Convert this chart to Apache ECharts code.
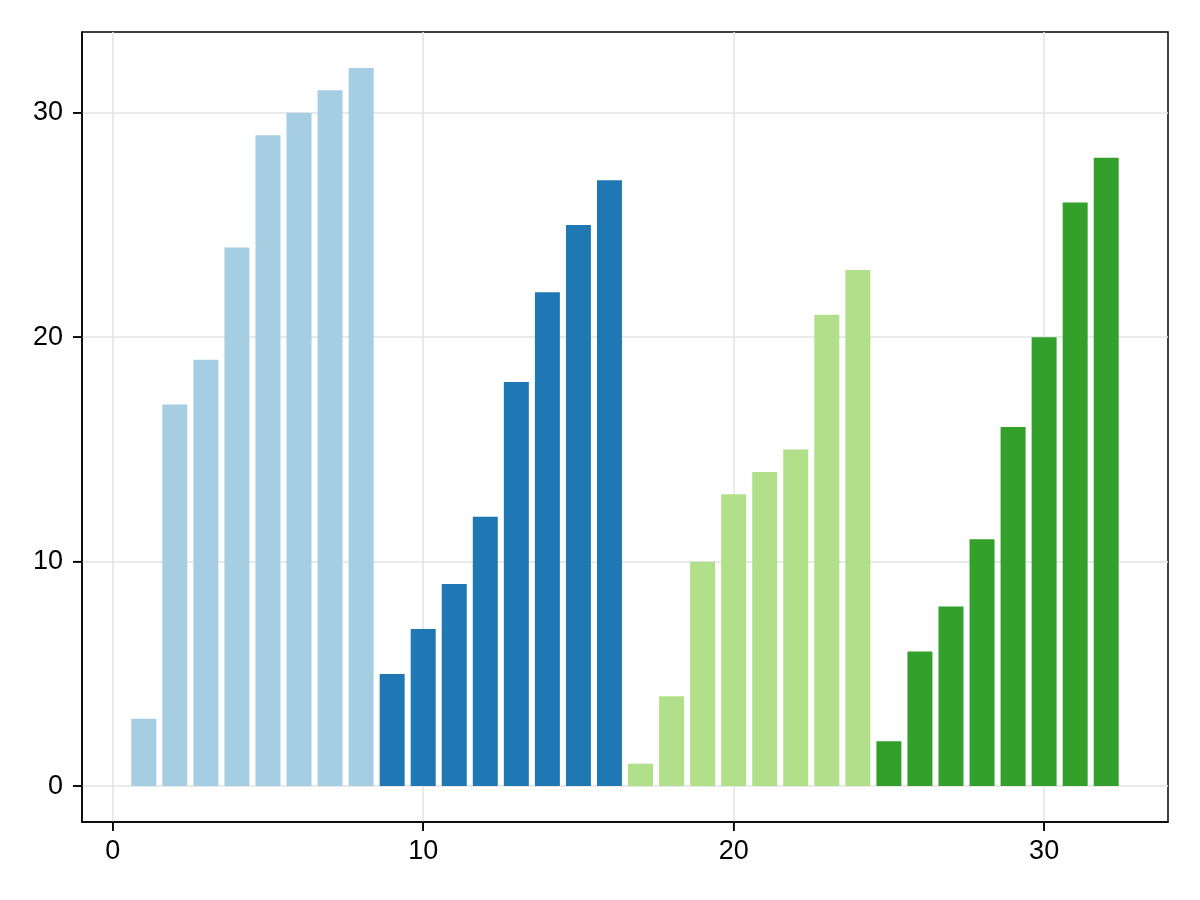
<!DOCTYPE html>
<html>
<head>
<meta charset="utf-8">
<script src="https://cdn.jsdelivr.net/npm/echarts@6/dist/echarts.min.js"></script>
<style>
  html, body { margin: 0; padding: 0; background: #fff; }
  #chart { width: 1200px; height: 900px; }
</style>
</head>
<body>
<div id="chart"></div>
<script>
// 柱子位置与高度
const positions = [1, 2, 3, 4, 5, 6, 7, 8, 9, 10, 11, 12, 13, 14, 15, 16,
  17, 18, 19, 20, 21, 22, 23, 24, 25, 26, 27, 28, 29, 30, 31, 32];
const heights = [3, 17, 19, 24, 29, 30, 31, 32, 5, 7, 9, 12, 18, 22, 25, 27,
  1, 4, 10, 13, 14, 15, 21, 23, 2, 6, 8, 11, 16, 20, 26, 28];
// 每组 8 根柱子的分组编号
const groups = [0, 0, 0, 0, 0, 0, 0, 0, 1, 1, 1, 1, 1, 1, 1, 1,
  2, 2, 2, 2, 2, 2, 2, 2, 3, 3, 3, 3, 3, 3, 3, 3];
const palette = ['#a6cee3', '#1f78b4', '#b2df8a', '#33a02c'];
const xTicks = [0, 10, 20, 30];
const yTicks = [0, 10, 20, 30];
const xMin = -0.99, xMax = 33.99;
const yMin = -1.6, yMax = 33.6;

const chart = echarts.init(document.getElementById('chart'));
const font = 'Liberation Sans, Arial, sans-serif';
const gridLine = { show: true, lineStyle: { color: '#e3e3e3', width: 1.5 } };
const blackLine = { color: '#000', width: 1.5 };
const TICK_LEN = 9;

chart.setOption({
  animation: false,
  backgroundColor: '#fff',
  grid: { left: 82, right: 32, top: 32, bottom: 78, show: true, borderColor: '#000', borderWidth: 1.5, backgroundColor: 'transparent' },
  xAxis: {
    type: 'value', min: xMin, max: xMax, position: 'bottom',
    axisLine: { show: true, onZero: false, lineStyle: blackLine },
    axisTick: { show: true, inside: false, customValues: xTicks, length: TICK_LEN, lineStyle: blackLine },
    axisLabel: { customValues: xTicks, color: '#000', fontSize: 27, fontFamily: font, margin: 16 },
    splitLine: gridLine,
  },
  yAxis: {
    type: 'value', min: yMin, max: yMax, position: 'left',
    axisLine: { show: true, onZero: false, lineStyle: blackLine },
    axisTick: { show: true, inside: false, customValues: yTicks, length: TICK_LEN, lineStyle: blackLine },
    axisLabel: { customValues: yTicks, color: '#000', fontSize: 27, fontFamily: font, margin: 19 },
    splitLine: gridLine,
  },
  series: [{
    type: 'bar',
    barWidth: 25,
    data: positions.map((x, i) => ({ value: [x, heights[i]], itemStyle: { color: palette[groups[i]] } })),
  }],
});

// 外侧刻度线：位置通过坐标轴换算得到
const tickStyle = { stroke: '#000', lineWidth: 1.5 };
const ticks = [];
xTicks.forEach(v => {
  const [px, py] = chart.convertToPixel({ gridIndex: 0 }, [v, yMin]);
  ticks.push({ type: 'line', shape: { x1: px, y1: py, x2: px, y2: py + TICK_LEN }, style: tickStyle });
});
yTicks.forEach(v => {
  const [px, py] = chart.convertToPixel({ gridIndex: 0 }, [xMin, v]);
  ticks.push({ type: 'line', shape: { x1: px - TICK_LEN, y1: py, x2: px, y2: py }, style: tickStyle });
});
chart.setOption({ graphic: ticks });
</script>
</body>
</html>
